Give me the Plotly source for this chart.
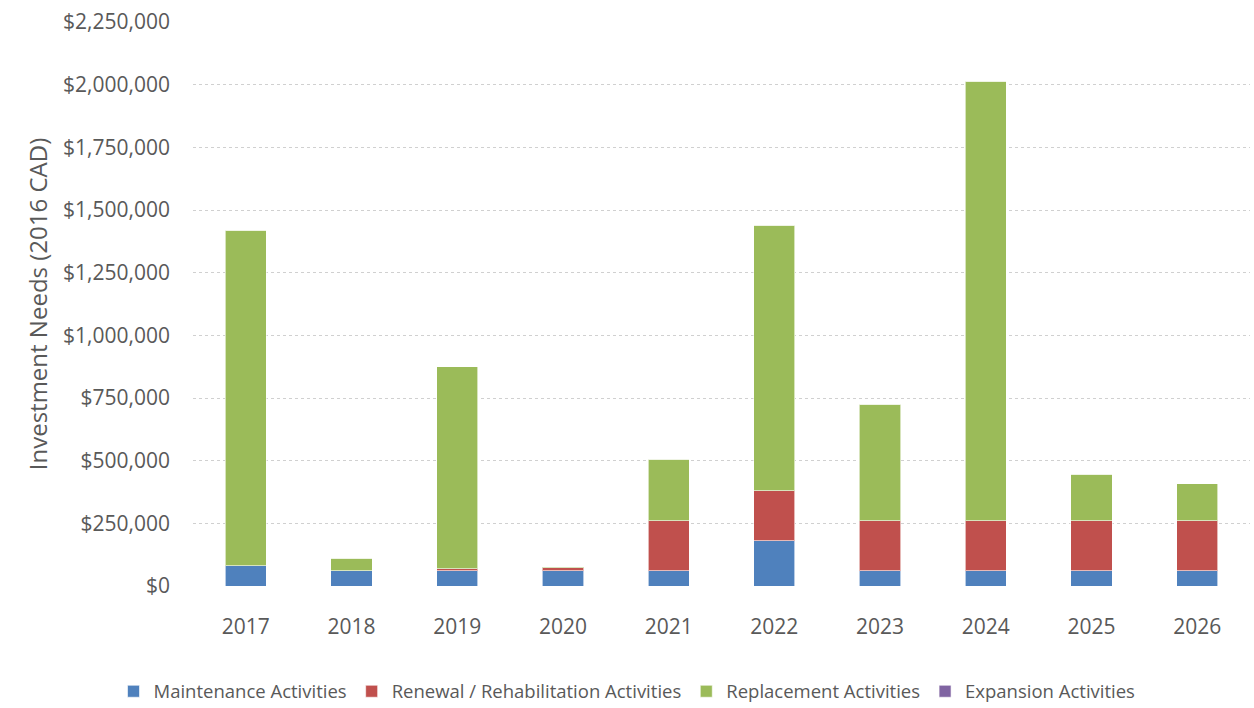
import plotly.graph_objects as go

years = ["2017", "2018", "2019", "2020", "2021", "2022", "2023", "2024", "2025", "2026"]
maintenance = [80000, 60000, 60000, 60000, 60000, 180000, 60000, 60000, 60000, 60000]
renewal = [0, 0, 8000, 12000, 200000, 200000, 200000, 200000, 200000, 200000]
replacement = [1340000, 50000, 807000, 5000, 245000, 1060000, 466000, 1754000, 185000, 147000]
expansion = [0, 0, 0, 0, 0, 0, 0, 0, 0, 0]

series = [
    ("Maintenance Activities", maintenance, "#4F81BD"),
    ("Renewal / Rehabilitation Activities", renewal, "#C0504D"),
    ("Replacement Activities", replacement, "#9BBB59"),
    ("Expansion Activities", expansion, "#8064A2"),
]

fig = go.Figure()
for name, vals, color in series:
    fig.add_trace(go.Bar(
        x=years, y=vals, name=name,
        marker=dict(color=color, line=dict(color="rgba(255,255,255,0.6)", width=1)),
        width=0.39,
    ))

font_family = "Open Sans, DejaVu Sans, sans-serif"
fig.update_layout(
    barmode="stack",
    width=1254, height=708,
    margin=dict(l=193, r=4, t=22, b=122),
    plot_bgcolor="white", paper_bgcolor="white",
    font=dict(family=font_family, color="#595959", size=20),
    legend=dict(
        orientation="h", xref="container", yref="container",
        x=0.5, xanchor="center", y=0.023, yanchor="middle",
        font=dict(size=18.5, color="#595959"), itemwidth=30,
        traceorder="normal", tracegroupgap=0,
    ),
    showlegend=True,
)
fig.update_yaxes(
    range=[0, 2250000], dtick=250000, tickprefix="$", tickformat=",.0f",
    showgrid=True, gridcolor="#D0D0D0", griddash="dot", gridwidth=1,
    zeroline=False, showline=False, ticklabelstandoff=22,
    tickfont=dict(size=21, color="#595959"),
    title=dict(text="Investment Needs (2016 CAD)", font=dict(size=24, color="#595959"), standoff=8),
)
fig.update_xaxes(
    showline=False, showgrid=False, ticks="",
    tickfont=dict(size=21, color="#595959"), ticklabelstandoff=26,
)
fig.write_html("out.html")
